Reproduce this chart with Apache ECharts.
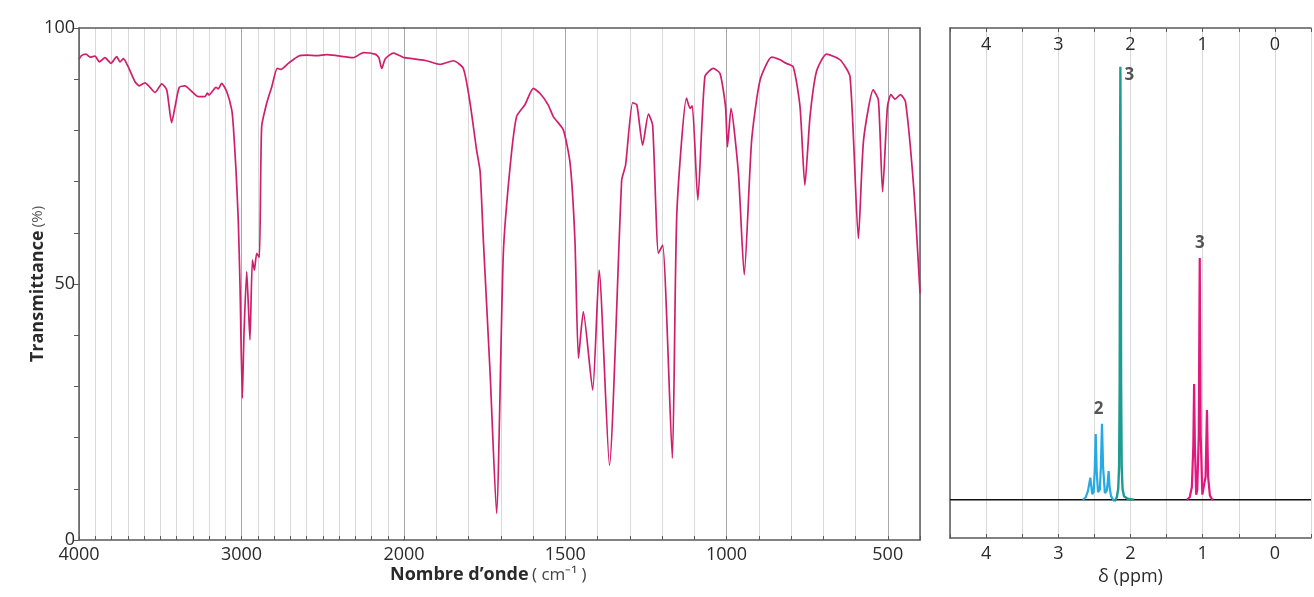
<!DOCTYPE html>
<html><head><meta charset="utf-8">
<script src="https://cdn.jsdelivr.net/npm/echarts@6/dist/echarts.min.js"></script>
<style>html,body{margin:0;padding:0;background:#fff}#c{width:1314px;height:597px}</style>
</head><body><div id="c"></div>
<script>
// ---------- IR spectrum data ----------
const irWavenumber = [4000,3985,3957,3932,3902,3875,3840,3803,3768,3748,3727,3697,3655,3629,3594,3563,3532,3491,3460,3430,3409,3383,3348,3306,3266,3225,3210,3200,3157,3143,3122,3091,3060,3050,3034,3020,3009,2995,2985,2968,2958,2948,2933,2921,2906,2890,2876,2845,2814,2780,2759,2712,2650,2599,2537,2476,2414,2312,2250,2178,2155,2137,2115,2066,2000,
 1930,1888,1847,1816,1795,1775,1764,1754,1733,1713,1692,1671,1651,1625,1599,1578,1553,1537,1506,1485,1470,1459,1444,1415,1395,1363,1325,1313,1291,1278,1260,1242,1229,1211,1198,1168,1154,1124,1113,1106,1089,1067,1041,1020,1003,997,986,963,945,922,896,860,834,819,793,772,757,741,721,690,648,617,591,575,545,529,516,501,490,477,461,445,419,400];
const irTransmittance = [93.9,94.6,94.9,94.3,94.5,93.4,94.2,93.1,94.4,93.4,94.0,92.4,89.5,88.7,89.3,88.4,87.4,89.1,87.9,81.5,84.6,88.4,88.7,87.6,86.6,86.6,87.3,86.9,88.4,88.1,89.2,87.6,84.0,80.7,72.3,62.5,49.5,27.7,40.0,52.4,46.0,39.1,54.7,52.7,56.0,55.2,80.7,85.3,88.5,92.1,91.9,93.1,94.5,94.7,94.6,94.8,94.6,94.2,95.2,94.9,94.2,92.1,94.0,95.1,94.2,
 93.6,92.9,93.6,92.1,85.3,76.2,72.0,58.6,32.6,5.2,56.0,72.9,82.7,85.0,88.2,87.2,85.0,82.7,80.1,73.6,58.6,35.5,44.6,29.3,52.7,14.6,70.3,73.2,85.4,85.0,77.1,83.2,81.0,56.0,57.6,16.0,63.8,86.3,84.3,84.8,66.4,90.5,92.1,91.1,84.6,76.8,84.3,71.6,51.8,78.1,89.8,94.3,93.8,93.2,92.4,84.6,69.3,82.7,91.5,94.9,93.8,90.5,58.9,78.1,87.9,85.9,68.0,84.6,87.0,86.1,87.0,85.6,68.4,48.2];
const irTickLabels = [4000,3000,2000,1500,1000,500];
const irMajorLines = [4000,3000,2000,1500,1000,500];
const yTickLabels = [0,50,100];

// ---------- 1H NMR data ----------
const nmrTickLabels = [4,3,2,1,0];
const baselinePpm = [4.5,-0.5];
const baselineI = [7.5,7.5];
const quartetPpm = [2.66,2.62,2.59,2.556,2.53,2.51,2.495,2.482,2.468,2.45,2.425,2.41,2.395,2.38,2.355,2.33,2.315,2.303,2.29,2.27,2.24,2.22];
const quartetI   = [7.5,8.0,9.2,11.8,8.6,9.0,13.5,20.4,13.0,9.0,9.5,14.0,22.4,14.0,8.8,9.2,11.0,13.1,10.0,8.2,7.5,7.2];
const singletPpm = [2.22,2.19,2.17,2.158,2.15,2.143,2.14,2.137,2.13,2.122,2.11,2.09,2.04,1.95];
const singletI   = [7.2,8.0,9.6,14.0,30.0,80.0,92.4,80.0,30.0,14.0,9.6,8.2,7.7,7.5];
const tripletPpm = [1.22,1.18,1.15,1.13,1.119,1.108,1.09,1.075,1.055,1.041,1.028,1.005,0.985,0.96,0.941,0.925,0.9,0.87,0.85];
const tripletI   = [7.5,8.0,10.0,18.0,30.2,18.0,8.5,9.5,20.0,54.9,20.0,8.5,8.8,12.0,25.1,12.0,8.3,7.6,7.5];
const nmrPeakLabels = [
  {ppm:2.14, i:92.4, text:'3', pos:'right'},
  {ppm:2.44, i:22.4, text:'2', pos:'top'},
  {ppm:1.04, i:54.9, text:'3', pos:'top'}
];

const pairs = (xs, ys) => xs.map((x, k) => [x, ys[k]]);
const irAll = pairs(irWavenumber, irTransmittance);
const irHigh = irAll.filter(p => p[0] >= 2000);
const irLow = irAll.filter(p => p[0] <= 2000);

const FONT = 'Open Sans';
const TXT = '#2a2a2a';
const AXIS = '#5a5a5a';
const MINOR = '#d9d9d9';
const MAJOR = '#a8a8a8';
const IRCOL = '#cf1f6c';

function lineColors(min, max, step) {
  const out = [];
  for (let v = min; v <= max + 1e-9; v += step) out.push(irMajorLines.includes(v) ? MAJOR : MINOR);
  return out;
}

const chart = echarts.init(document.getElementById('c'), null, {renderer: 'canvas'});
const irLabel = {show: true, color: TXT, fontFamily: FONT, fontSize: 18, margin: 6,
  showMinLabel: true, showMaxLabel: true,
  formatter: v => irTickLabels.includes(v) ? String(v) : ''};
const frameLine = {show: true, onZero: false, lineStyle: {color: AXIS, width: 1.5}};

chart.setOption({
  animation: false,
  backgroundColor: '#fff',
  grid: [
    {left: 79, top: 28, width: 325, height: 512},
    {left: 404, top: 28, width: 516, height: 512},
    {left: 950, top: 28, width: 365, height: 510}
  ],
  xAxis: [
    {gridIndex: 0, type: 'value', inverse: true, min: 2000, max: 4000, interval: 100, position: 'bottom',
     axisLine: frameLine,
     axisTick: {show: true, inside: true, length: 4, lineStyle: {color: AXIS}},
     axisLabel: Object.assign({}, irLabel, {formatter: v => (v !== 2000 && irTickLabels.includes(v)) ? String(v) : ''}),
     splitLine: {show: true, lineStyle: {color: lineColors(2000, 4000, 100), width: 1}}},
    {gridIndex: 1, type: 'value', inverse: true, min: 400, max: 2000, interval: 100, position: 'bottom',
     axisLine: frameLine,
     axisTick: {show: true, inside: true, length: 4, lineStyle: {color: AXIS}},
     axisLabel: irLabel,
     splitLine: {show: true, lineStyle: {color: lineColors(400, 2000, 100), width: 1}}},
    {gridIndex: 0, type: 'value', min: 2000, max: 4000, position: 'top',
     axisLine: frameLine, axisTick: {show: false}, axisLabel: {show: false}, splitLine: {show: false}},
    {gridIndex: 1, type: 'value', min: 400, max: 2000, position: 'top',
     axisLine: frameLine, axisTick: {show: false}, axisLabel: {show: false}, splitLine: {show: false}},
    {gridIndex: 2, type: 'value', inverse: true, min: -0.5, max: 4.5, interval: 0.5, position: 'bottom',
     name: 'δ (ppm)', nameLocation: 'middle', nameGap: 30,
     nameTextStyle: {color: TXT, fontFamily: FONT, fontSize: 18},
     axisLine: frameLine,
     axisTick: {show: true, inside: true, length: 4, lineStyle: {color: AXIS}},
     axisLabel: {color: TXT, fontFamily: FONT, fontSize: 18, margin: 7,
       formatter: v => nmrTickLabels.includes(v) ? String(v) : ''},
     splitLine: {show: true, lineStyle: {color: MINOR, width: 1}}},
    {gridIndex: 2, type: 'value', inverse: true, min: -0.5, max: 4.5, interval: 0.5, position: 'top',
     axisLine: frameLine,
     axisTick: {show: true, inside: true, length: 4, lineStyle: {color: AXIS}},
     axisLabel: {inside: true, color: TXT, fontFamily: FONT, fontSize: 18, margin: 8,
       formatter: v => nmrTickLabels.includes(v) ? String(v) : ''},
     splitLine: {show: false}}
  ],
  yAxis: [
    {gridIndex: 0, type: 'value', min: 0, max: 100, interval: 10,
     name: '{b|Transmittance} {n|(%)}', nameLocation: 'middle', nameGap: 32, nameRotate: 90,
     nameMoveOverlap: false,
     nameTextStyle: {rich: {
       b: {fontFamily: FONT, fontWeight: 'bold', fontSize: 18, color: TXT},
       n: {fontFamily: FONT, fontSize: 15, color: '#555'}}},
     axisLine: frameLine,
     axisTick: {show: true, inside: false, length: 5, lineStyle: {color: AXIS}},
     axisLabel: {color: TXT, fontFamily: FONT, fontSize: 18, margin: 4,
       formatter: v => yTickLabels.includes(v) ? String(v) : ''},
     splitLine: {show: false}},
    {gridIndex: 1, type: 'value', min: 0, max: 100, position: 'right',
     axisLine: frameLine,
     axisTick: {show: false}, axisLabel: {show: false}, splitLine: {show: false}},
    {gridIndex: 2, type: 'value', min: 0, max: 100, position: 'left',
     axisLine: frameLine,
     axisTick: {show: false}, axisLabel: {show: false}, splitLine: {show: false}}
  ],
  graphic: [{
    type: 'text', left: 390, top: 566,
    style: {
      text: '{b|Nombre d’onde} {n|( cm⁻¹ )}',
      rich: {
        b: {fontFamily: FONT, fontWeight: 'bold', fontSize: 18, fill: TXT},
        n: {fontFamily: FONT, fontSize: 17, fill: '#444'}
      }
    }
  }],
  series: [
    {type: 'line', xAxisIndex: 0, yAxisIndex: 0, data: irHigh, showSymbol: false, smooth: 0.2,
     lineStyle: {color: IRCOL, width: 1.7}, z: 5},
    {type: 'line', xAxisIndex: 1, yAxisIndex: 1, data: irLow, showSymbol: false, smooth: 0.2,
     lineStyle: {color: IRCOL, width: 1.7}, z: 5},
    {type: 'line', xAxisIndex: 4, yAxisIndex: 2, data: pairs(baselinePpm, baselineI), showSymbol: false,
     lineStyle: {color: '#111', width: 1.5}, z: 4},
    {type: 'line', xAxisIndex: 4, yAxisIndex: 2, data: pairs(quartetPpm, quartetI), showSymbol: false,
     lineStyle: {color: '#27a9e1', width: 2.2}, z: 5},
    {type: 'line', xAxisIndex: 4, yAxisIndex: 2, data: pairs(singletPpm, singletI), showSymbol: false,
     lineStyle: {color: '#1f9c92', width: 2.4}, z: 5},
    {type: 'line', xAxisIndex: 4, yAxisIndex: 2, data: pairs(tripletPpm, tripletI), showSymbol: false,
     lineStyle: {color: '#e2187f', width: 2.2}, z: 5},
    {type: 'scatter', xAxisIndex: 4, yAxisIndex: 2, symbolSize: 0, z: 6,
     data: nmrPeakLabels.map(d => ({value: [d.ppm, d.i], name: d.text,
       label: {show: true, position: d.pos, formatter: d.text, distance: d.pos === 'right' ? 4 : 6,
         offset: d.pos === 'right' ? [0, 8] : [0, 0],
         color: TXT, fontFamily: FONT, fontWeight: 'bold', fontSize: 17}}))}
  ]
});
</script></body></html>
